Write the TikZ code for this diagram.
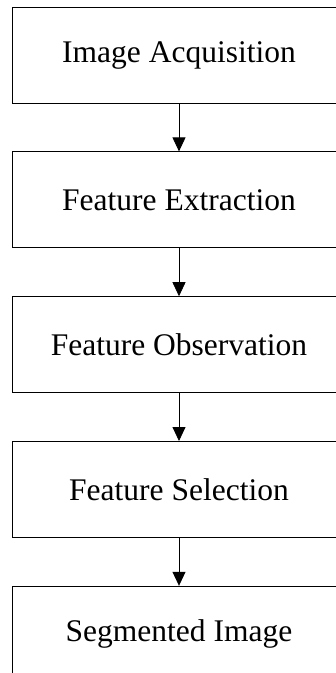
\documentclass[tikz,border=0pt]{standalone}
\usepackage{fontspec}
\setmainfont{Liberation Serif}
\usetikzlibrary{positioning,arrows.meta}
\begin{document}
\begin{tikzpicture}[x=1pt,y=1pt,
stage/.style={draw, line width=0.8pt, minimum width=334pt, minimum height=96pt, inner sep=0pt, font=\fontsize{31.5}{36}\selectfont},
flow/.style={line width=0.8pt, -{Triangle[width=13pt,length=14pt]}},
node distance=48pt]
\useasboundingbox (0,0) rectangle (336,-673);
\clip (0,0) rectangle (336,-673);
%fasi
\node[stage] (acq) at (179,-55) {Image Acquisition};
\node[stage, below=of acq] (ext) {Feature Extraction};
\node[stage, below=of ext] (obs) {Feature Observation};
\node[stage, below=of obs] (sel) {Feature Selection};
\node[stage, below=of sel] (seg) {Segmented Image};
%frecce
\draw[flow] (acq) -- (ext);
\draw[flow] (ext) -- (obs);
\draw[flow] (obs) -- (sel);
\draw[flow] (sel) -- (seg);
\end{tikzpicture}
\end{document}
